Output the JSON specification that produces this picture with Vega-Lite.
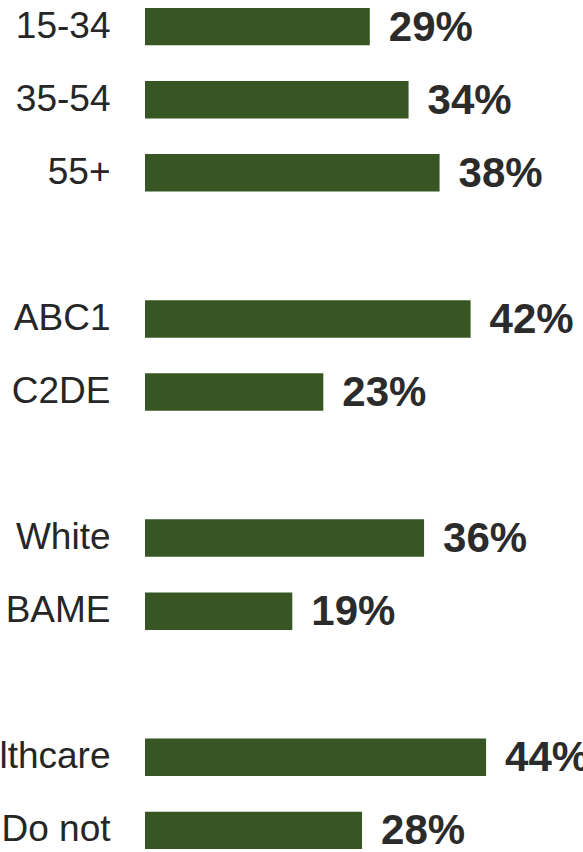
{
  "$schema": "https://vega.github.io/schema/vega-lite/v6.json",
  "autosize": {"type": "none"},
  "padding": {"left": 145, "top": 5, "right": 0, "bottom": 0},
  "width": 438,
  "height": 847,
  "background": "white",
  "config": {"view": {"stroke": null}},
  "data": {"values": [
    {"cat": "15-34", "value": 29},
    {"cat": "35-54", "value": 34},
    {"cat": "55+", "value": 38},
    {"cat": "ABC1", "value": 42},
    {"cat": "C2DE", "value": 23},
    {"cat": "White", "value": 36},
    {"cat": "BAME", "value": 19},
    {"cat": "Work in healthcare", "value": 44},
    {"cat": "Do not", "value": 28}
  ]},
  "encoding": {
    "y": {
      "field": "cat", "type": "nominal",
      "scale": {
        "domain": ["15-34", "35-54", "55+", "gap1", "ABC1", "C2DE", "gap2", "White", "BAME", "gap3", "Work in healthcare", "Do not"],
        "paddingInner": 0.487, "paddingOuter": 0.0395
      },
      "axis": {
        "title": null, "domain": false, "ticks": false, "grid": false,
        "labelPadding": 35, "labelFont": "Liberation Sans", "labelFontSize": 37,
        "labelColor": "#262626", "labelLimit": 0, "labelAlign": "right", "labelBaseline": "middle",
        "labelExpr": "indexof(datum.label, 'gap') == 0 ? '' : datum.label"
      }
    },
    "x": {
      "field": "value", "type": "quantitative",
      "scale": {"domain": [0, 56.5], "nice": false, "zero": true},
      "axis": null
    }
  },
  "layer": [
    {"mark": {"type": "bar", "color": "#375623"}},
    {
      "mark": {"type": "text", "align": "left", "baseline": "middle", "dx": 19, "dy": 1, "font": "Liberation Sans", "fontWeight": "bold", "fontSize": 42, "color": "#2b2b2b",
        "text": {"expr": "datum.value + '%'"}}
    }
  ]
}
